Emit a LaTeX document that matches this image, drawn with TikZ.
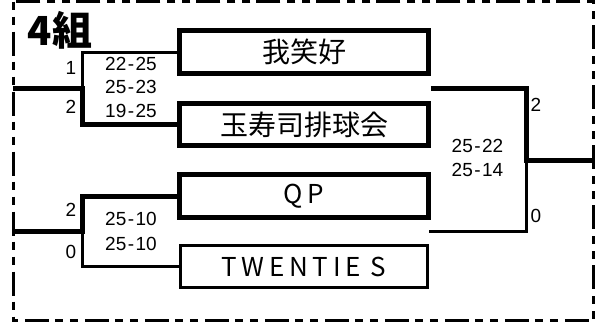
\documentclass[tikz,border=0pt]{standalone}
\usepackage{fontspec}
\setmainfont{Liberation Sans}
\newfontfamily\cjk{Noto Sans CJK JP}
\newfontfamily\cjkls[LetterSpace=18]{Noto Sans CJK JP}
\newcommand\scorepair[2]{#1\kern1.5pt-\kern1.5pt#2}
\begin{document}
\begin{tikzpicture}[x=1pt,y=-1pt,
  teambox/.style={draw, line width=5pt, minimum width=248.5pt, minimum height=42.7pt, inner sep=0pt,
    font=\cjk\fontsize{28}{28}\selectfont},
  thinbox/.style={teambox, line width=3pt},
  winline/.style={line width=5pt, line join=miter},
  loseline/.style={line width=3pt, line join=miter},
  score/.style={font=\fontsize{19}{19}\selectfont, inner sep=0pt},
  setnum/.style={font=\fontsize{19}{19}\selectfont, inner sep=0pt},
  frame/.style={line width=3pt, dash pattern=on 8pt off 7pt on 8pt off 7pt on 24pt off 6pt}]
\useasboundingbox (0,0) rectangle (595,324);
\draw[frame] (13.3,1.5) rectangle (593.3,320);
\node[font=\cjk\bfseries\fontsize{40}{40}\selectfont, inner sep=0pt] (title) at (60,30) {4組};
% teams
\node[teambox] (t1) at (304,52.2) {我笑好};
\node[teambox] (t2) at (304,124.5) {玉寿司排球会};
\node[teambox, font=\cjkls\fontsize{26}{26}\selectfont] (t3) at (304,196) {QP};
\node[thinbox, minimum width=247.7pt, minimum height=41.9pt, font=\cjkls\fontsize{26}{26}\selectfont] (t4) at (303.9,266.7) {TWENTIE\kern10pt S};
% junction coordinates
\coordinate (m1) at (82,88);
\coordinate (m2) at (82,231);
\coordinate (o1) at (13.3,88);
\coordinate (o2) at (13.3,231);
\coordinate (f) at (526,160);
\coordinate (fo) at (593.3,160);
% match 1
\draw[loseline] (t1.west) -| (m1);
\draw[winline] (o1) -- (m1) |- (t2.west);
% match 2
\draw[loseline] (m2) |- (t4.west);
\draw[winline] (o2) -- (m2) |- (t3.west);
% final
\draw[loseline] (f) |- (t4.east |- m2);
\draw[winline] (t1.east |- m1) -| (f) -- (fo);
% set counts
\node[setnum] (a1) at (71,68) {1};
\node[setnum] (a2) at (71,107) {2};
\node[setnum] (b1) at (71,210) {2};
\node[setnum] (b2) at (71,252) {0};
\node[setnum] (c1) at (536,105) {2};
\node[setnum] (c2) at (536,215.5) {0};
% scores
\node[score] (s1) at (131,63.5) {\scorepair{22}{25}};
\node[score] (s2) at (131,87) {\scorepair{25}{23}};
\node[score] (s3) at (131,111) {\scorepair{19}{25}};
\node[score] (s4) at (131,219) {\scorepair{25}{10}};
\node[score] (s5) at (131,243.5) {\scorepair{25}{10}};
\node[score] (s6) at (477.5,145.5) {\scorepair{25}{22}};
\node[score] (s7) at (477.5,170) {\scorepair{25}{14}};
\end{tikzpicture}
\end{document}
